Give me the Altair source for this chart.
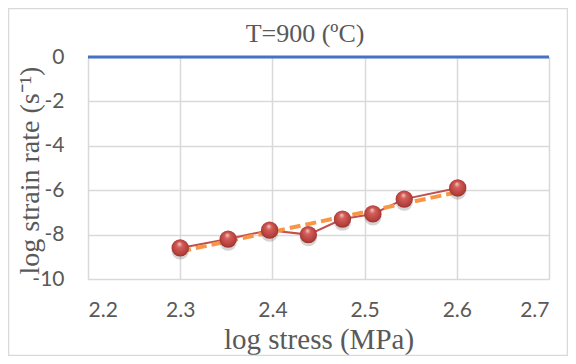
import altair as alt
import pandas as pd

log_stress = [2.300, 2.352, 2.397, 2.439, 2.476, 2.509, 2.543, 2.601]
log_strain_rate = [-8.6, -8.2, -7.8, -8.0, -7.3, -7.07, -6.4, -5.9]
x_ticks = [2.2, 2.3, 2.4, 2.5, 2.6, 2.7]
y_ticks = [0, -2, -4, -6, -8, -10]
chart_title = "T=900 (ºC)"

df = pd.DataFrame({"x": log_stress, "y": log_strain_rate})
zero_df = pd.DataFrame({"x": [2.2], "x2": [2.7], "y": [0]})
title_df = pd.DataFrame({"t": [chart_title]})

GRAY = "#595959"
SERIF = "Liberation Serif"
SANS = "Lato"

xscale = alt.Scale(domain=[2.2, 2.7], nice=False, zero=False)
yscale = alt.Scale(domain=[-10, 0], nice=False)

xaxis = alt.Axis(values=x_ticks, format=".1f", title="log stress (MPa)",
                 grid=True, gridColor="#D9D9D9", gridWidth=1.5, domain=False, ticks=False,
                 labelFont=SANS, labelFontSize=21, labelColor=GRAY, labelPadding=20,
                 titleFont=SERIF, titleFontSize=29, titleFontWeight="normal",
                 titleColor=GRAY, titlePadding=5)
yaxis = alt.Axis(values=y_ticks, title="log strain rate (s⁻¹)",
                 labelExpr="datum.value == 0 ? '0' : '-' + toString(abs(datum.value))",
                 grid=True, gridColor="#D9D9D9", gridWidth=1.5, domain=False, ticks=False,
                 labelFont=SANS, labelFontSize=21, labelColor=GRAY, labelPadding=24,
                 titleFont=SERIF, titleFontSize=28, titleFontWeight="normal",
                 titleColor=GRAY, titleX=-44, titleY=113)

base = alt.Chart(df)

line = base.mark_line(color="#C0504D", strokeWidth=2).encode(
    x=alt.X("x:Q", scale=xscale, axis=xaxis),
    y=alt.Y("y:Q", scale=yscale, axis=yaxis),
)

trend = base.transform_regression("x", "y").mark_line(
    color="#F79646", strokeWidth=4, strokeDash=[11, 5]
).encode(x=alt.X("x:Q", scale=xscale), y=alt.Y("y:Q", scale=yscale))

shadow = base.mark_point(
    filled=True, size=300, opacity=0.25, color="#555555", strokeWidth=0, yOffset=3
).encode(x=alt.X("x:Q", scale=xscale), y=alt.Y("y:Q", scale=yscale))

points = base.mark_point(
    filled=True, size=300, opacity=1, strokeWidth=0,
    fill={"gradient": "radial", "x1": 0.45, "y1": 0.25, "r1": 0.0,
          "x2": 0.5, "y2": 0.5, "r2": 0.55,
          "stops": [{"offset": 0, "color": "#F6D0CE"},
                    {"offset": 0.3, "color": "#D35E5A"},
                    {"offset": 0.8, "color": "#B43E3A"},
                    {"offset": 1, "color": "#8A2A27"}]},
).encode(x=alt.X("x:Q", scale=xscale), y=alt.Y("y:Q", scale=yscale))

zero_line = alt.Chart(zero_df).mark_rule(color="#4472C4", strokeWidth=3).encode(
    x=alt.X("x:Q", scale=xscale), x2="x2:Q", y=alt.Y("y:Q", scale=yscale)
)

frame = alt.Chart(zero_df).mark_rect(fill=None, stroke="#D9D9D9", strokeWidth=1.5).encode(
    x=alt.value(-79.5), x2=alt.value(479.5), y=alt.value(-48.5), y2=alt.value(298.5)
)

title = alt.Chart(title_df).mark_text(
    font=SERIF, fontSize=26, color=GRAY, baseline="alphabetic", align="center"
).encode(text="t:N", x=alt.value(217), y=alt.value(-15))

chart = alt.layer(frame, zero_line, line, trend, shadow, points, title).properties(
    width=461, height=222,
    autosize=alt.AutoSizeParams(type="none"),
    padding={"left": 80, "top": 49, "right": 19, "bottom": 77},
).configure_view(stroke=None).configure(background="white")

chart.save("out.html", embed_options={"renderer": "svg", "actions": False})
